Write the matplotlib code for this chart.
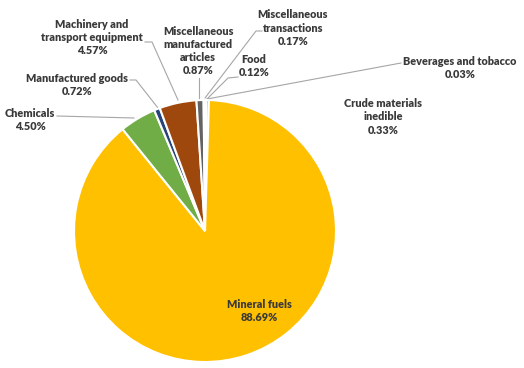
import matplotlib
matplotlib.use("Agg")
import matplotlib.pyplot as plt

categories = ["Food", "Beverages and tobacco", "Crude materials\ninedible", "Mineral fuels",
              "Chemicals", "Manufactured goods", "Machinery and\ntransport equipment",
              "Miscellaneous\nmanufactured\narticles", "Miscellaneous\ntransactions"]
values = [0.12, 0.03, 0.33, 88.69, 4.50, 0.72, 4.57, 0.87, 0.17]
colors = ["#4472C4", "#ED7D31", "#A5A5A5", "#FFC000", "#70AD47", "#264478", "#9E480E", "#636363", "#997300"]

W, H = 524, 368
fig = plt.figure(figsize=(W / 100, H / 100), dpi=100)
ax = fig.add_axes([0, 0, 1, 1])

cx, cy, r = 205, H - 231, 131
ax.pie(values, colors=colors, startangle=90, counterclock=False, center=(cx, cy), radius=r,
       wedgeprops=dict(edgecolor="white", linewidth=1.5), frame=True)
ax.set_xlim(0, W)
ax.set_ylim(0, H)
ax.set_aspect("equal")
ax.axis("off")

# label anchor positions in image pixels (x, y-center)
label_pos = {
    0: (254, 66),
    1: (460, 68),
    2: (383, 117),
    3: (259, 311),
    4: (30, 120),
    5: (77, 85),
    6: (92, 37.5),
    7: (198, 51),
    8: (293, 28),
}
tc = "#3a3a3a"
for i, (x, y) in label_pos.items():
    txt = "%s\n%.2f%%" % (categories[i], values[i])
    ax.text(x, H - y, txt, ha="center", va="center", fontsize=7.8, color=tc,
            family=["Lato", "DejaVu Sans"], fontweight="heavy", linespacing=1.24)

leaders = [
    [(145, 42), (152, 42), (178, 100)],
    [(130, 80), (136, 80), (158, 108)],
    [(57, 116), (134, 118)],
    [(199, 78), (199, 100)],
    [(238, 77), (228, 78), (207, 99)],
    [(262, 31), (256, 31), (205, 98)],
    [(401, 63), (207, 99)],
]
for pts in leaders:
    xs = [p[0] for p in pts]
    ys = [H - p[1] for p in pts]
    ax.plot(xs, ys, color="#A6A6A6", linewidth=0.8, zorder=0.5)

fig.savefig("out.png", dpi=100)
